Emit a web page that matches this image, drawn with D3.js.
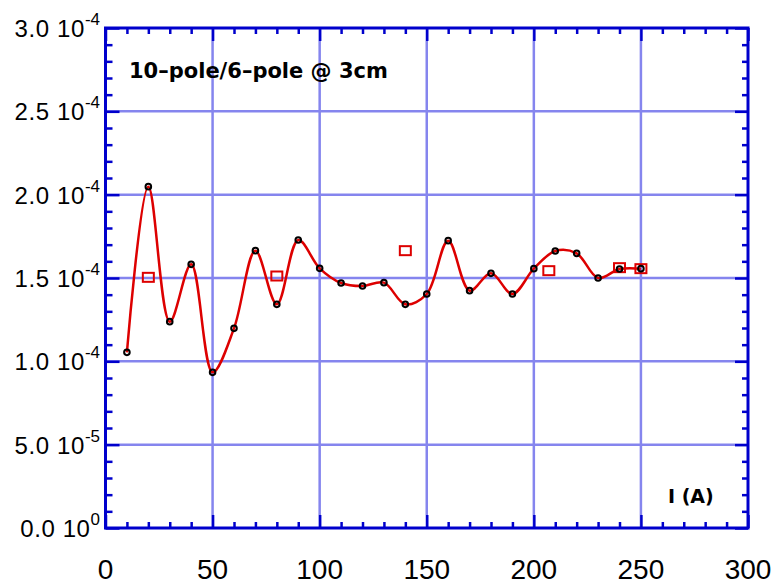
<!DOCTYPE html>
<html>
<head>
<meta charset="utf-8">
<script src="https://cdn.jsdelivr.net/npm/d3@7"></script>
<style>
  html, body { margin: 0; padding: 0; background: #fff; }
  svg { display: block; }
</style>
</head>
<body>
<svg id="chart" width="778" height="586"></svg>
<script>
// ---- data ----
const currents = [10, 20, 30, 40, 50, 60, 70, 80, 90, 100, 110, 120, 130, 140, 150, 160, 170, 180, 190, 200, 210, 220, 230, 240, 250];
const ratios = [1.054e-4, 2.048e-4, 1.238e-4, 1.582e-4, 0.934e-4, 1.198e-4, 1.664e-4, 1.342e-4, 1.728e-4, 1.558e-4,
                1.470e-4, 1.452e-4, 1.472e-4, 1.342e-4, 1.404e-4, 1.724e-4, 1.424e-4, 1.528e-4, 1.404e-4, 1.556e-4,
                1.662e-4, 1.648e-4, 1.500e-4, 1.554e-4, 1.556e-4];
const squareCurrents = [20, 80, 140, 207, 240, 250];
const squareRatios = [1.504e-4, 1.512e-4, 1.664e-4, 1.544e-4, 1.562e-4, 1.556e-4];
const xMajorTicks = [0, 50, 100, 150, 200, 250, 300];
const xTickLabels = ["0", "50", "100", "150", "200", "250", "300"];
const yMajorTicks = [0, 0.5e-4, 1.0e-4, 1.5e-4, 2.0e-4, 2.5e-4, 3.0e-4];
const yTickMantissa = ["0.0 10", "5.0 10", "1.0 10", "1.5 10", "2.0 10", "2.5 10", "3.0 10"];
const yTickExponent = ["0", "-5", "-4", "-4", "-4", "-4", "-4"];
const titleText = "10\u2013pole/6\u2013pole @ 3cm";
const xAxisTitle = "I (A)";

// ---- layout ----
const L = 105.5, R = 748, T = 28, B = 528;
const axisColor = "#0000cc", gridColor = "#8585ee", red = "#dd0000";

const svg = d3.select("#chart");
const x = d3.scaleLinear().domain([0, 300]).range([L, R]);
const y = d3.scaleLinear().domain([0, 3e-4]).range([B, T]);

const xMinor = d3.range(0, 301, 10).filter(v => v % 50 !== 0);
const yMinor = d3.range(0, 31, 1).filter(v => v % 5 !== 0).map(v => v * 1e-5);

// grid
const grid = svg.append("g");
grid.selectAll("line.gx").data(xMajorTicks.slice(1, -1)).join("line")
  .attr("x1", d => x(d)).attr("x2", d => x(d)).attr("y1", T).attr("y2", B)
  .attr("stroke", gridColor).attr("stroke-width", 2.5);
grid.selectAll("line.gy").data(yMajorTicks.slice(1, -1)).join("line")
  .attr("x1", L).attr("x2", R).attr("y1", d => y(d)).attr("y2", d => y(d))
  .attr("stroke", gridColor).attr("stroke-width", 2.5);

// axes with inward ticks
function styleAxis(g) {
  g.select(".domain").remove();
  g.selectAll(".tick line").attr("stroke", axisColor).attr("stroke-width", 2.5);
  g.selectAll(".tick text").remove();
}
const mk = (axisFn, scale, vals, size) => axisFn(scale).tickValues(vals).tickSizeInner(size).tickSizeOuter(0).tickFormat("");

svg.append("g").attr("transform", `translate(0,${B})`).call(mk(d3.axisBottom, x, xMajorTicks, -13)).call(styleAxis);
svg.append("g").attr("transform", `translate(0,${B})`).call(mk(d3.axisBottom, x, xMinor, -6)).call(styleAxis);
svg.append("g").attr("transform", `translate(0,${T})`).call(mk(d3.axisTop, x, xMajorTicks, -13)).call(styleAxis);
svg.append("g").attr("transform", `translate(0,${T})`).call(mk(d3.axisTop, x, xMinor, -6)).call(styleAxis);
svg.append("g").attr("transform", `translate(${L},0)`).call(mk(d3.axisLeft, y, yMajorTicks, -14)).call(styleAxis);
svg.append("g").attr("transform", `translate(${L},0)`).call(mk(d3.axisLeft, y, yMinor, -7)).call(styleAxis);
svg.append("g").attr("transform", `translate(${R},0)`).call(mk(d3.axisRight, y, yMajorTicks, -13)).call(styleAxis);
svg.append("g").attr("transform", `translate(${R},0)`).call(mk(d3.axisRight, y, yMinor, -6)).call(styleAxis);

// frame
svg.append("rect").attr("x", L).attr("y", T).attr("width", R - L).attr("height", B - T)
  .attr("fill", "none").attr("stroke", axisColor).attr("stroke-width", 3);

// tick labels
svg.append("g").selectAll("text").data(xMajorTicks).join("text")
  .attr("x", d => x(d)).attr("y", 579)
  .attr("text-anchor", "middle")
  .attr("font-family", "'Liberation Sans', Arial, sans-serif").attr("font-size", 28)
  .attr("fill", "#000")
  .text((d, i) => xTickLabels[i]);

const yl = svg.append("g").selectAll("text").data(yMajorTicks).join("text")
  .attr("x", 100).attr("y", d => y(d) + 9)
  .attr("text-anchor", "end")
  .attr("font-family", "'Liberation Sans', Arial, sans-serif").attr("font-size", 24)
  .attr("fill", "#000");
yl.append("tspan").attr("letter-spacing", 0.6).text((d, i) => yTickMantissa[i]);
yl.append("tspan").attr("dy", -12).attr("font-size", 17).text((d, i) => yTickExponent[i]);

// curve
const pts = currents.map((c, i) => [c, ratios[i]]);
const line = d3.line().x(d => x(d[0])).y(d => y(d[1])).curve(d3.curveCatmullRom.alpha(0.5));
svg.append("path").attr("d", line(pts)).attr("fill", "none")
  .attr("stroke", red).attr("stroke-width", 2.5).attr("stroke-linejoin", "round");

// squares
svg.append("g").selectAll("rect").data(squareCurrents).join("rect")
  .attr("x", (d) => x(d) - 5.5).attr("y", (d, i) => y(squareRatios[i]) - 4.5)
  .attr("width", 11).attr("height", 9)
  .attr("fill", "none").attr("stroke", red).attr("stroke-width", 2);

// points
svg.append("g").selectAll("circle").data(pts).join("circle")
  .attr("cx", d => x(d[0])).attr("cy", d => y(d[1])).attr("r", 2.8)
  .attr("fill", "none").attr("stroke", "#000").attr("stroke-width", 2);

// annotations
svg.append("text").attr("x", 129).attr("y", 78)
  .attr("font-family", "'DejaVu Sans', Verdana, sans-serif").attr("font-weight", "bold")
  .attr("font-size", 21).attr("fill", "#000").text(titleText);
svg.append("text").attr("x", 668).attr("y", 503)
  .attr("font-family", "'DejaVu Sans', Verdana, sans-serif").attr("font-weight", "bold")
  .attr("font-size", 19).attr("fill", "#000").text(xAxisTitle);
</script>
</body>
</html>
